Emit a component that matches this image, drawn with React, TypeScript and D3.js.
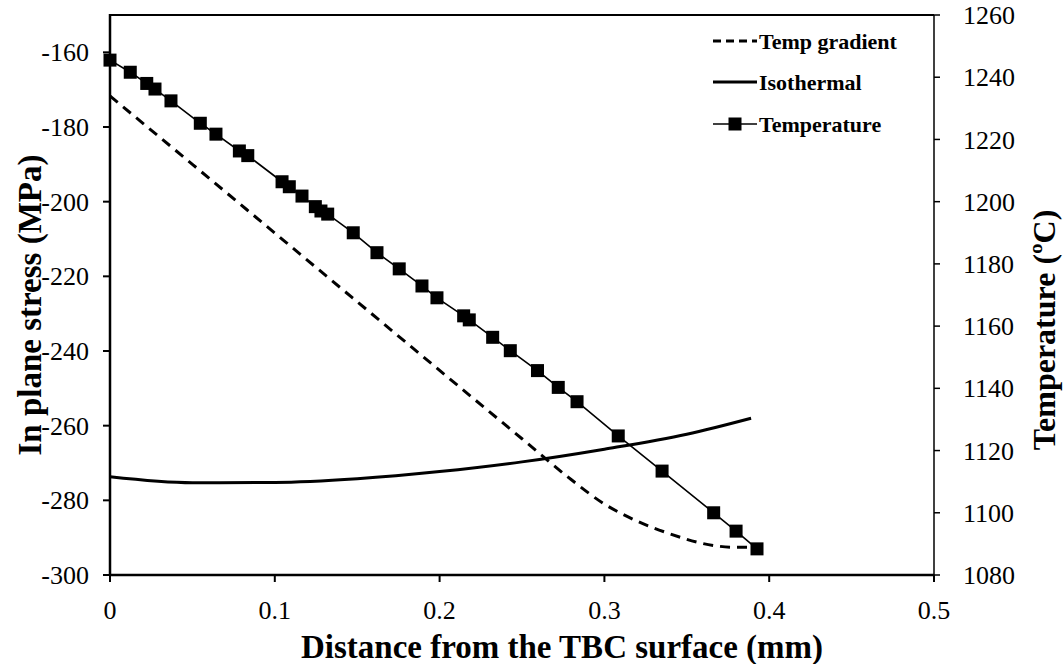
import React from "react";
import * as d3 from "d3";

// Distance from the TBC surface (mm) and measured temperature (°C)
const tempDistance = [
  0, 0.0123, 0.0223, 0.0273, 0.037, 0.0548, 0.0643, 0.0785, 0.0836, 0.1044,
  0.1088, 0.1165, 0.1246, 0.128, 0.1321, 0.1476, 0.162, 0.1755, 0.1893, 0.1984,
  0.2146, 0.218, 0.2322, 0.2429, 0.2594, 0.272, 0.2834, 0.3084, 0.335, 0.3663,
  0.3799, 0.3926,
];
const tempValues = [
  1245.5, 1241.6, 1238.0, 1236.2, 1232.4, 1225.2, 1221.7, 1216.3, 1214.8, 1206.4,
  1204.8, 1201.8, 1198.4, 1197.0, 1196.0, 1190.0, 1183.6, 1178.4, 1172.9, 1169.1,
  1163.3, 1162.0, 1156.4, 1152.1, 1145.7, 1140.3, 1135.7, 1124.7, 1113.4, 1100.0,
  1094.1, 1088.4,
];

// In-plane stress (MPa) under a temperature gradient
const gradientDistance = [0, 0.05, 0.1, 0.15, 0.2, 0.25, 0.28, 0.3, 0.32, 0.34, 0.36, 0.38, 0.392];
const gradientStress = [-171.7, -190.0, -208.4, -226.8, -245.2, -263.5, -274.5, -281.0, -285.6, -289.0, -291.6, -292.6, -292.6];

// In-plane stress (MPa) under isothermal conditions
const isoDistance = [0, 0.05, 0.1, 0.15, 0.2, 0.25, 0.3, 0.35, 0.389];
const isoStress = [-273.7, -275.3, -275.2, -274.2, -272.3, -269.7, -266.3, -262.3, -258.0];

const xTicks = [0, 0.1, 0.2, 0.3, 0.4, 0.5];
const stressTicks = [-300, -280, -260, -240, -220, -200, -180, -160];
const tempTicks = [1080, 1100, 1120, 1140, 1160, 1180, 1200, 1220, 1240, 1260];

const legendLabels = ["Temp gradient", "Isothermal", "Temperature"];

const W = 1063;
const H = 664;
const L = 110;
const R = 934;
const T = 15;
const B = 575;
const FONT = "Liberation Serif, Times New Roman, DejaVu Serif, serif";

export default function App() {
  const x = d3.scaleLinear().domain([0, 0.5]).range([L, R]);
  const yL = d3.scaleLinear().domain([-300, -150]).range([B, T]);
  const yR = d3.scaleLinear().domain([1080, 1260]).range([B, T]);

  const gradLine = d3
    .line<number>()
    .x((_, i) => x(gradientDistance[i]))
    .y((d) => yL(d))
    .curve(d3.curveMonotoneX)(gradientStress) as string;

  const isoLine = d3
    .line<number>()
    .x((_, i) => x(isoDistance[i]))
    .y((d) => yL(d))
    .curve(d3.curveMonotoneX)(isoStress) as string;

  const tempLine = d3
    .line<number>()
    .x((_, i) => x(tempDistance[i]))
    .y((d) => yR(d))(tempValues) as string;

  const sq = 13;
  const legX0 = 713;
  const legX1 = 757;
  const legY = [41, 82, 124];

  return (
    <svg
      width={W}
      height={H}
      style={{ position: "absolute", left: 0, top: 0, background: "#fff", fontFamily: FONT }}
    >
      <rect x={0} y={0} width={W} height={H} fill="#fff" />

      {/* frame */}
      <line x1={L} y1={T} x2={R} y2={T} stroke="#000" strokeWidth={2} />
      <line x1={R} y1={T} x2={R} y2={B} stroke="#000" strokeWidth={1.5} />
      <line x1={L} y1={T - 1} x2={L} y2={B + 1} stroke="#000" strokeWidth={2.5} />
      <line x1={L - 1} y1={B} x2={R} y2={B} stroke="#000" strokeWidth={2.5} />

      {/* x axis ticks */}
      {xTicks.map((t) => (
        <g key={`x${t}`}>
          <line x1={x(t)} y1={B} x2={x(t)} y2={B + 7} stroke="#000" strokeWidth={2} />
          <text x={x(t)} y={619} textAnchor="middle" fontSize={26} fontFamily={FONT}>
            {t === 0 ? "0" : String(t)}
          </text>
        </g>
      ))}

      {/* left axis ticks */}
      {stressTicks.map((t) => (
        <g key={`l${t}`}>
          <line x1={L - 7} y1={yL(t)} x2={L} y2={yL(t)} stroke="#000" strokeWidth={2} />
          <text x={89} y={yL(t)} dy="0.35em" textAnchor="end" fontSize={26} fontFamily={FONT}>
            {t}
          </text>
        </g>
      ))}

      {/* right axis ticks */}
      {tempTicks.map((t) => (
        <g key={`r${t}`}>
          <line x1={R} y1={yR(t)} x2={R + 6} y2={yR(t)} stroke="#000" strokeWidth={1.5} />
          <text x={963} y={yR(t)} dy="0.35em" textAnchor="start" fontSize={26} fontFamily={FONT}>
            {t}
          </text>
        </g>
      ))}

      {/* axis titles */}
      <text x={562} y={658} textAnchor="middle" fontSize={33} fontWeight="bold" fontFamily={FONT}>
        Distance from the TBC surface (mm)
      </text>
      <text
        transform={`translate(41,305) rotate(-90)`}
        textAnchor="middle"
        fontSize={33}
        fontWeight="bold"
        fontFamily={FONT}
      >
        In plane stress (MPa)
      </text>
      <text
        transform={`translate(1055,330) rotate(-90)`}
        textAnchor="middle"
        fontSize={32}
        fontWeight="bold"
        fontFamily={FONT}
      >
        Temperature (ºC)
      </text>

      {/* series */}
      <path d={gradLine} fill="none" stroke="#000" strokeWidth={3} strokeDasharray="10 7" />
      <path d={isoLine} fill="none" stroke="#000" strokeWidth={3} />
      <path d={tempLine} fill="none" stroke="#000" strokeWidth={1.6} />
      {tempValues.map((v, i) => (
        <rect
          key={`m${i}`}
          x={x(tempDistance[i]) - sq / 2}
          y={yR(v) - sq / 2}
          width={sq}
          height={sq}
          fill="#000"
        />
      ))}

      {/* legend */}
      <line x1={legX0} y1={legY[0]} x2={legX1} y2={legY[0]} stroke="#000" strokeWidth={3} strokeDasharray="8 5" />
      <line x1={legX0} y1={legY[1]} x2={legX1} y2={legY[1]} stroke="#000" strokeWidth={3} />
      <line x1={legX0} y1={legY[2]} x2={legX1} y2={legY[2]} stroke="#000" strokeWidth={1.6} />
      <rect x={(legX0 + legX1) / 2 - sq / 2} y={legY[2] - sq / 2} width={sq} height={sq} fill="#000" />
      {legendLabels.map((label, i) => (
        <text key={label} x={legX1 + 2} y={legY[i]} dy="0.35em" fontSize={22} fontWeight="bold" fontFamily={FONT}>
          {label}
        </text>
      ))}
    </svg>
  );
}
